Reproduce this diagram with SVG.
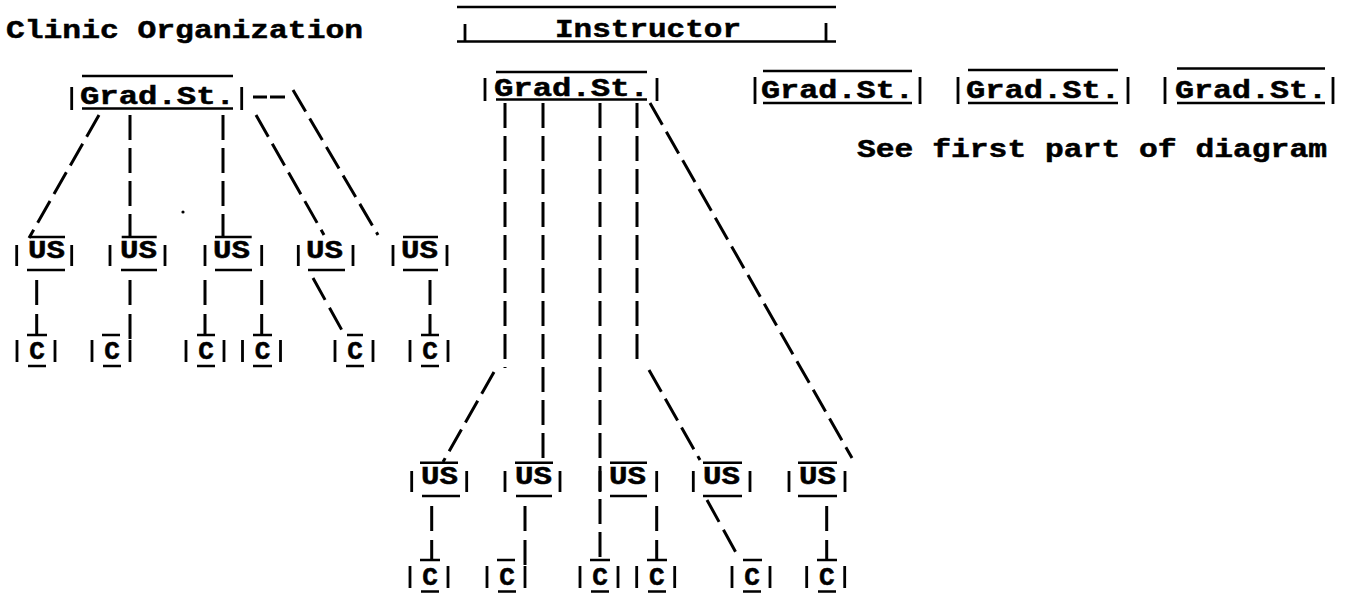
<svg xmlns="http://www.w3.org/2000/svg" width="1347" height="594" viewBox="0 0 1347 594">
<style>
.t{font-family:"Liberation Mono","DejaVu Sans Mono",monospace;font-weight:bold;font-size:26px;fill:#000;stroke:#000;stroke-width:0.5}
.tc{font-family:"Liberation Mono","DejaVu Sans Mono",monospace;font-weight:bold;font-size:26px;fill:#000;stroke:#000;stroke-width:0.5;text-anchor:middle}
.b{stroke:#000;stroke-width:2.8;fill:none}
.r{stroke:#000;stroke-width:2.5;fill:none}
.c{stroke:#000;stroke-width:3;fill:none;stroke-dasharray:25 8}
.cs{stroke:#000;stroke-width:3;fill:none;stroke-dasharray:25 9}
</style>
<rect width="1347" height="594" fill="#fff"/>
<text class="t" x="6" y="37.5" textLength="357" lengthAdjust="spacingAndGlyphs">Clinic Organization</text>
<text class="t" x="857" y="157" textLength="470" lengthAdjust="spacingAndGlyphs">See first part of diagram</text>

<g id="instructor">
<path class="r" d="M457,7H836M457,41.5H836"/>
<path class="b" d="M465,24V42M826,23V41"/>
<text class="t" x="555" y="37" textLength="186" lengthAdjust="spacingAndGlyphs">Instructor</text>
</g>

<g id="grad-left">
<path class="r" d="M82,76H233M82,108.5H233"/>
<path class="b" d="M71.7,87V110M241.7,87V110"/>
<text class="t" x="80" y="103.5" textLength="155" lengthAdjust="spacingAndGlyphs">Grad.St.</text>
</g>
<g id="grad-mid">
<path class="r" d="M496,72H647M496,99.5H647"/>
<path class="b" d="M485,78V101M657,78V101"/>
<text class="t" x="494" y="95.5" textLength="155" lengthAdjust="spacingAndGlyphs">Grad.St.</text>
</g>
<g id="grad-r1">
<path class="r" d="M763,71H912M763,103H912"/>
<path class="b" d="M755,77V104M920,77V104"/>
<text class="t" x="761" y="98" textLength="153" lengthAdjust="spacingAndGlyphs">Grad.St.</text>
</g>
<g id="grad-r2">
<path class="r" d="M968,70H1118M968,103H1118"/>
<path class="b" d="M958,77V104M1128,77V104"/>
<text class="t" x="966" y="98" textLength="154" lengthAdjust="spacingAndGlyphs">Grad.St.</text>
</g>
<g id="grad-r3">
<path class="r" d="M1177,68.5H1325M1177,103H1325"/>
<path class="b" d="M1165,77V104M1333,77V104"/>
<text class="t" x="1175" y="98" textLength="152" lengthAdjust="spacingAndGlyphs">Grad.St.</text>
</g>

<!-- upper US row -->
<g id="us-a1"><path class="r" d="M30,237H65M27,270H65"/><path class="b" d="M16.7,245V266M71.7,245V266"/><text class="t" x="28" y="258" textLength="37" lengthAdjust="spacingAndGlyphs">US</text></g>
<g id="us-a2"><path class="r" d="M121.7,237H156.7M121,270H157"/><path class="b" d="M110,245V266M165,245V266"/><text class="t" x="120" y="258" textLength="37" lengthAdjust="spacingAndGlyphs">US</text></g>
<g id="us-a3"><path class="r" d="M215,237H251.7M215,270H252"/><path class="b" d="M205,245V266M261.7,245V266"/><text class="t" x="213" y="258" textLength="37" lengthAdjust="spacingAndGlyphs">US</text></g>
<g id="us-a4"><path class="r" d="M308,270H345"/><path class="b" d="M298.3,245V266M353,245V266"/><text class="t" x="306" y="258" textLength="37" lengthAdjust="spacingAndGlyphs">US</text></g>
<g id="us-a5"><path class="r" d="M403,237H438M403,270H438"/><path class="b" d="M393,245V266M447,245V266"/><text class="t" x="401" y="258" textLength="37" lengthAdjust="spacingAndGlyphs">US</text></g>

<!-- lower US row -->
<g id="us-b1"><path class="r" d="M420,462.7H458M422,496H460"/><path class="b" d="M411.7,471V492M466.7,471V492"/><text class="t" x="421" y="484" textLength="37" lengthAdjust="spacingAndGlyphs">US</text></g>
<g id="us-b2"><path class="r" d="M515,462.7H553M516,496H552"/><path class="b" d="M505,471V492M560,471V492"/><text class="t" x="515" y="484" textLength="37" lengthAdjust="spacingAndGlyphs">US</text></g>
<g id="us-b3"><path class="r" d="M610,462.7H647M610,496H647"/><path class="b" d="M600,471V492M656.7,471V492"/><text class="t" x="609" y="484" textLength="37" lengthAdjust="spacingAndGlyphs">US</text></g>
<g id="us-b4"><path class="r" d="M703,462.7H742M703,496H742"/><path class="b" d="M693.3,471V492M750,471V492"/><text class="t" x="703" y="484" textLength="37" lengthAdjust="spacingAndGlyphs">US</text></g>
<g id="us-b5"><path class="r" d="M798,462.7H837M798,496H837"/><path class="b" d="M789,471V492M845,471V492"/><text class="t" x="799" y="484" textLength="37" lengthAdjust="spacingAndGlyphs">US</text></g>

<!-- upper C row -->
<g id="c-a1"><path class="r" d="M27,335H47M28,366H46"/><path class="b" d="M17,340V362M55,340V362"/><text class="tc" x="37" y="359">C</text></g>
<g id="c-a2"><path class="r" d="M102,335H120M103,366H121"/><path class="b" d="M92,340V362M130,340V362"/><text class="tc" x="112" y="359">C</text></g>
<g id="c-a3"><path class="r" d="M197,335H215M197,366H215"/><path class="b" d="M186,340V362M224,340V362"/><text class="tc" x="206" y="359">C</text></g>
<g id="c-a4"><path class="r" d="M253,335H272M253,366H272"/><path class="b" d="M242.5,340V362M280.5,340V362"/><text class="tc" x="262.5" y="359">C</text></g>
<g id="c-a5"><path class="r" d="M347,335H363M346,366H364"/><path class="b" d="M335,340V362M373,340V362"/><text class="tc" x="355" y="359">C</text></g>
<g id="c-a6"><path class="r" d="M421,335H439M421,366H439"/><path class="b" d="M410,340V362M448,340V362"/><text class="tc" x="430" y="359">C</text></g>

<!-- lower C row -->
<g id="c-b1"><path class="r" d="M420,560H440M421,591.5H439"/><path class="b" d="M410,566V588M448,566V588"/><text class="tc" x="430" y="585">C</text></g>
<g id="c-b2"><path class="r" d="M497,560H515M498,591.5H516"/><path class="b" d="M487,566V588M525,566V588"/><text class="tc" x="507" y="585">C</text></g>
<g id="c-b3"><path class="r" d="M590,560H610M591,591.5H609"/><path class="b" d="M580,566V588M618,566V588"/><text class="tc" x="600" y="585">C</text></g>
<g id="c-b4"><path class="r" d="M647,560H667M648,591.5H666"/><path class="b" d="M636.7,566V588M674.7,566V588"/><text class="tc" x="656.7" y="585">C</text></g>
<g id="c-b5"><path class="r" d="M743,560H762M743,591.5H761"/><path class="b" d="M732,566V588M770,566V588"/><text class="tc" x="752" y="585">C</text></g>
<g id="c-b6"><path class="r" d="M817,560H837M818,591.5H836"/><path class="b" d="M806.7,566V588M844.7,566V588"/><text class="tc" x="826.7" y="585">C</text></g>

<g id="connectors">
<path class="c" d="M99,115L29,238"/>
<path class="c" d="M130,115V237"/>
<path class="c" d="M223,115V237"/>
<path class="c" d="M256,115L324,235"/>
<path class="r" d="M253,97H267M270,97H285" style="stroke-width:3"/>
<path class="c" d="M293,90L378,235"/>
<path class="cs" d="M36.7,280V335"/>
<path class="cs" d="M130,280V340"/>
<path class="cs" d="M205,280V335"/>
<path class="cs" d="M261.7,280V335"/>
<path class="cs" d="M313,278L344,334"/>
<path class="cs" d="M430,280V335"/>
<path class="c" d="M505,103V368"/>
<path class="c" d="M494,372L443,462"/>
<path class="c" d="M543,103V462"/>
<path class="c" d="M600,103V560"/>
<path class="c" d="M637,103V367"/>
<path class="c" d="M649,370L700,460"/>
<path class="c" d="M650,103L852,458"/>
<path class="cs" d="M431.7,506V560"/>
<path class="cs" d="M525,506V566"/>
<path class="cs" d="M656.7,506V560"/>
<path class="cs" d="M707,500L739,558"/>
<path class="cs" d="M826.7,506V560"/>
</g>
<circle cx="183" cy="212" r="1.6" fill="#000"/>
</svg>
